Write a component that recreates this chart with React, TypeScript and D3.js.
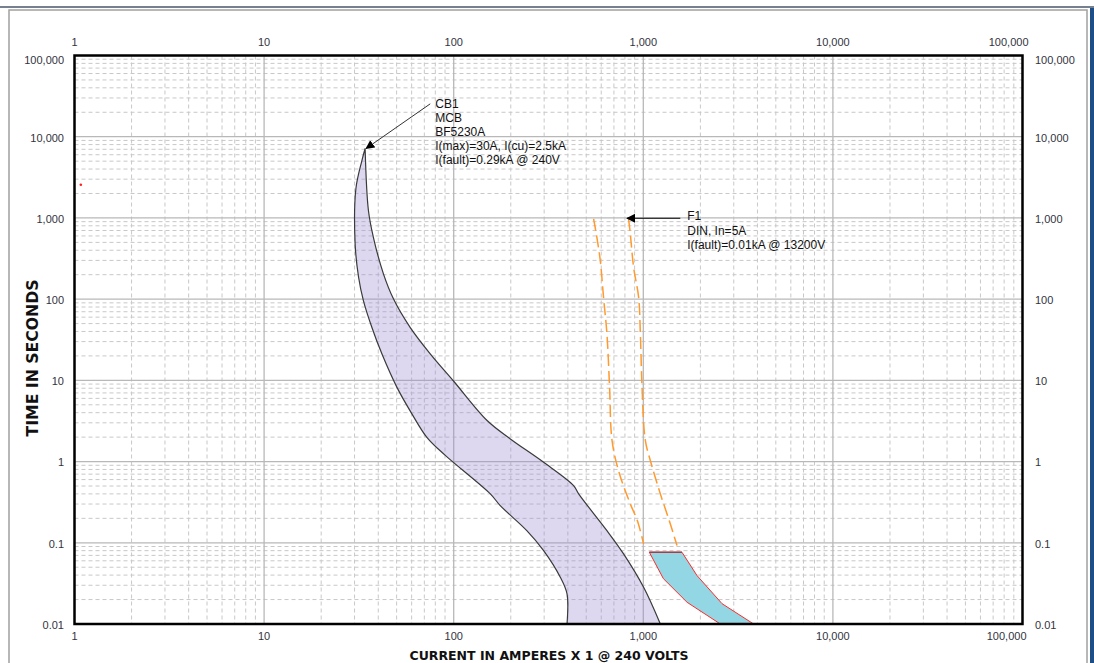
import React from "react";
import * as d3 from "d3";

// ---- axis ticks ----
const xMajor = [1, 10, 100, 1000, 10000, 100000];
const xTickLabels = ["1", "10", "100", "1,000", "10,000", "100,000"];
const yMajor = [0.01, 0.1, 1, 10, 100, 1000, 10000, 100000];
const yTickLabels = ["0.01", "0.1", "1", "10", "100", "1,000", "10,000", "100,000"];

// ---- CB1 (MCB) band: [current A, time s] ----
const cb1MinCurve: [number, number][] = [
  [34.1, 7160], [32.8, 5090], [30.5, 2300], [30.2, 484], [31.5, 186], [33.4, 96],
  [37.0, 45], [41.8, 21.2], [50.2, 8.2], [60.2, 3.87], [72.2, 1.99], [90, 1.2],
  [156, 0.4], [176, 0.287], [243, 0.141], [298, 0.08], [365, 0.0376],
  [396, 0.0235], [396, 0.01],
];
const cb1MaxCurve: [number, number][] = [
  [34.1, 7160], [35.5, 1234], [37.7, 578], [42.6, 205], [48.1, 101], [58.9, 45],
  [75.2, 21.2], [100, 9.75], [150, 3.2], [199, 1.9], [298, 0.98], [429, 0.506],
  [456, 0.4], [643, 0.141], [787, 0.073], [1004, 0.0283], [1230, 0.01],
];

// ---- F1 (DIN fuse) curves ----
const f1MinMelt: [number, number][] = [
  [547, 975], [565, 637], [593, 299], [617, 105], [643, 37.4], [664, 8.2],
  [684, 1.82], [740, 0.775], [854, 0.301], [930, 0.188], [1004, 0.097],
];
const f1TotalClear: [number, number][] = [
  [836, 975], [854, 637], [889, 247], [945, 105], [965, 37.4], [985, 8.2],
  [1025, 1.82], [1089, 1.03], [1230, 0.4], [1370, 0.188], [1506, 0.0924],
];
const f1Band: [number, number][] = [
  [1076, 0.0764], [1600, 0.0764], [1920, 0.0395], [2602, 0.0178], [3820, 0.01],
  [2548, 0.01], [1702, 0.0185], [1276, 0.0362],
];

// ---- annotations ----
const cb1Lines = ["CB1", "MCB", "BF5230A", "I(max)=30A, I(cu)=2.5kA", "I(fault)=0.29kA @ 240V"];
const cb1LabelAnchor: [number, number] = [75.2, 25400];
const cb1ArrowTip: [number, number] = [34.1, 7160];
const f1Lines = ["F1", "DIN, In=5A", "I(fault)=0.01kA @ 13200V"];
const f1ArrowStart: [number, number] = [1567, 991];
const f1ArrowTip: [number, number] = [821, 991];
const strayPoint: [number, number] = [1.08, 2557];

export default function App() {
  const W = 1094, H = 663;
  const x = d3.scaleLog().domain([1, 1e5]).range([74.5, 1022.5]);
  const y = d3.scaleLog().domain([0.01, 1e5]).range([624, 55.5]);
  const [x0, x1] = x.range();
  const [yb, yt] = y.range();

  const minorX: number[] = [];
  xMajor.slice(0, -1).forEach((d) => { for (let k = 2; k <= 9; k++) minorX.push(d * k); });
  const minorY: number[] = [];
  yMajor.slice(0, -1).forEach((d) => { for (let k = 2; k <= 9; k++) minorY.push(d * k); });

  const smooth = d3.line<[number, number]>().x((d) => x(d[0])).y((d) => y(d[1]))
    .curve(d3.curveCatmullRom.alpha(0.5));
  const straight = d3.line<[number, number]>().x((d) => x(d[0])).y((d) => y(d[1]));
  const closed = d3.line<[number, number]>().x((d) => x(d[0])).y((d) => y(d[1])).curve(d3.curveLinearClosed);

  const cb1Path = (smooth(cb1MinCurve) || "") +
    (smooth(cb1MaxCurve.slice().reverse()) || "").replace(/^M/, "L") + "Z";

  const tickFont = "'Liberation Sans', Arial, sans-serif";
  const annFont = "'Liberation Sans', Arial, sans-serif";
  const titleFont = "'DejaVu Sans', Verdana, sans-serif";
  const tickColor = "#333340";

  const cbA = [x(cb1LabelAnchor[0]), y(cb1LabelAnchor[1])];

  return (
    <svg width={W} height={H} style={{ position: "absolute", left: 0, top: 0, background: "#fff" }}>
      <defs>
        <clipPath id="plotClip">
          <rect x={x0} y={yt} width={x1 - x0} height={yb - yt} />
        </clipPath>
        <marker id="arrow" viewBox="0 0 10 10" refX="9" refY="5" markerWidth="9" markerHeight="9"
          markerUnits="userSpaceOnUse" orient="auto">
          <path d="M0,0 L10,5 L0,10 Z" fill="#000" />
        </marker>
      </defs>

      {/* window chrome */}
      <line x1={0} x2={W} y1={7} y2={7} stroke="#4a5668" strokeWidth={1.5} />
      <rect x={9} y={10} width={1078} height={H} fill="none" stroke="#a0a0a0" strokeWidth={1.5} />
      <rect x={1090} y={8} width={4} height={H} fill="#1d4f86" />

      {/* grid */}
      <g clipPath="url(#plotClip)">
        {minorX.map((v, i) => (
          <line key={"mx" + i} x1={x(v)} x2={x(v)} y1={yt} y2={yb} stroke="#c8c8c8" strokeWidth={1} strokeDasharray="4,3" />
        ))}
        {minorY.map((v, i) => (
          <line key={"my" + i} x1={x0} x2={x1} y1={y(v)} y2={y(v)} stroke="#c8c8c8" strokeWidth={1} strokeDasharray="4,3" />
        ))}
        {xMajor.map((v, i) => (
          <line key={"Mx" + i} x1={x(v)} x2={x(v)} y1={yt} y2={yb} stroke="#b8b8b8" strokeWidth={1.3} />
        ))}
        {yMajor.map((v, i) => (
          <line key={"My" + i} x1={x0} x2={x1} y1={y(v)} y2={y(v)} stroke="#b8b8b8" strokeWidth={1.3} />
        ))}

        {/* CB1 band */}
        <path d={cb1Path} fill="#9a8ed2" fillOpacity={0.34} stroke="#3a3a3a" strokeWidth={1.2} />

        {/* F1 curves */}
        <path d={smooth(f1MinMelt) || ""} fill="none" stroke="#ff9a2e" strokeWidth={1.5} strokeDasharray="12,5" />
        <path d={smooth(f1TotalClear) || ""} fill="none" stroke="#ff9a2e" strokeWidth={1.5} strokeDasharray="12,5" />
        <path d={closed(f1Band) || ""} fill="#93d6e4" stroke="#ff2a2a" strokeWidth={1} />
        <path d={straight(f1Band.slice(0, 2)) || ""} fill="none" stroke="#a0404a" strokeWidth={1.6} />

        <circle cx={x(strayPoint[0])} cy={y(strayPoint[1])} r={1.3} fill="#ff2020" />
      </g>

      {/* frame */}
      <rect x={x0} y={yt} width={x1 - x0} height={yb - yt} fill="none" stroke="#000" strokeWidth={2.5} />

      {/* tick labels */}
      <g fontFamily={tickFont} fontSize={11} fill={tickColor}>
        {xMajor.map((v, i) => {
          const last = i === xMajor.length - 1;
          return (
            <g key={"xl" + i}>
              <text x={last ? x(v) + 6 : x(v)} y={43} textAnchor={last ? "end" : "middle"} dominantBaseline="middle">{xTickLabels[i]}</text>
              <text x={last ? x(v) + 4 : x(v)} y={637} textAnchor={last ? "end" : "middle"} dominantBaseline="middle">{xTickLabels[i]}</text>
            </g>
          );
        })}
        {yMajor.map((v, i) => {
          const yy = Math.max(y(v) + 2, 61);
          return (
            <g key={"yl" + i}>
              <text x={64} y={yy} textAnchor="end" dominantBaseline="middle">{yTickLabels[i]}</text>
              <text x={1035} y={yy} textAnchor="start" dominantBaseline="middle">{yTickLabels[i]}</text>
            </g>
          );
        })}
      </g>

      {/* axis titles */}
      <text transform="translate(38,358) rotate(-90)" textAnchor="middle" fontFamily={titleFont}
        fontWeight="bold" fontSize={15.5} fill="#111" textLength={157} lengthAdjust="spacingAndGlyphs">TIME IN SECONDS</text>
      <text x={549} y={660} textAnchor="middle" fontFamily={titleFont} fontWeight="bold" fontSize={12.5}
        fill="#111" textLength={279} lengthAdjust="spacingAndGlyphs">CURRENT IN AMPERES X 1 @ 240 VOLTS</text>

      {/* CB1 annotation */}
      <line x1={cbA[0]} y1={cbA[1]} x2={x(cb1ArrowTip[0]) + 1} y2={y(cb1ArrowTip[1])} stroke="#333" strokeWidth={1} markerEnd="url(#arrow)" />
      <g fontFamily={annFont} fontSize={12} fill="#111">
        {cb1Lines.map((t, i) => (
          <text key={"cb" + i} x={cbA[0] + 5} y={cbA[1] + 1 + i * 14} dominantBaseline="middle">{t}</text>
        ))}
      </g>

      {/* F1 annotation */}
      <line x1={x(f1ArrowStart[0])} y1={y(f1ArrowStart[1])} x2={x(f1ArrowTip[0])} y2={y(f1ArrowTip[1])} stroke="#000" strokeWidth={1.2} markerEnd="url(#arrow)" />
      <g fontFamily={annFont} fontSize={12} fill="#111">
        {f1Lines.map((t, i) => (
          <text key={"f1" + i} x={x(f1ArrowStart[0]) + 7} y={y(f1ArrowStart[1]) - 1 + i * 14.5} dominantBaseline="middle">{t}</text>
        ))}
      </g>
    </svg>
  );
}
